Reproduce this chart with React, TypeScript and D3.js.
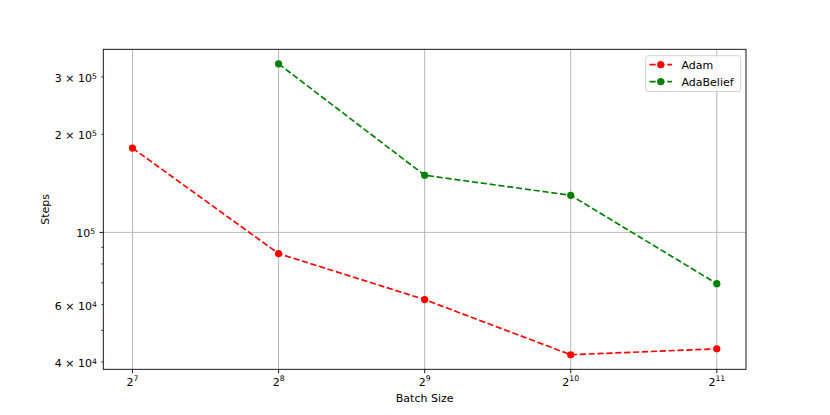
import React from "react";
import * as d3 from "d3";

const batchExp = [7, 8, 9, 10, 11];
const adamSteps = [181500, 86100, 62200, 42100, 43900];
const adaBeliefX = [8, 9, 10, 11];
const adaBeliefSteps = [329300, 149800, 130000, 69600];
const yLabeled = [
  { v: 300000, m: "3", e: "5", major: false },
  { v: 200000, m: "2", e: "5", major: false },
  { v: 100000, m: "", e: "5", major: true },
  { v: 60000, m: "6", e: "4", major: false },
  { v: 40000, m: "4", e: "4", major: false },
];
const yMinorUnlabeled = [50000, 70000, 80000, 90000];

const W = 830, H = 415;
const L = 103.3, R = 746, T = 49.3, B = 369.3;

export default function App() {
  const x = d3.scaleLog().base(2).domain([Math.pow(2, 6.8), Math.pow(2, 11.2)]).range([L, R]);
  const allY = [...adamSteps, ...adaBeliefSteps];
  const lo = Math.log10(d3.min(allY)!), hi = Math.log10(d3.max(allY)!);
  const pad = (hi - lo) * 0.05;
  const y = d3.scaleLog().domain([Math.pow(10, lo - pad), Math.pow(10, hi + pad)]).range([B, T]);
  const line = d3.line<[number, number]>().x(d => x(Math.pow(2, d[0]))).y(d => y(d[1]));
  const adamPts: [number, number][] = batchExp.map((e, i) => [e, adamSteps[i]]);
  const abPts: [number, number][] = adaBeliefX.map((e, i) => [e, adaBeliefSteps[i]]);
  const font = "DejaVu Sans, sans-serif";
  const dash = "6.2,2.7";
  const fs = 11;
  const sfs = 7.7;
  return (
    <svg width={W} height={H} style={{ position: "absolute", left: 0, top: 0 }} fontFamily={font}>
      <rect width={W} height={H} fill="white" />
      {/* grid */}
      {batchExp.map(e => (
        <line key={"gx" + e} x1={x(Math.pow(2, e))} x2={x(Math.pow(2, e))} y1={T} y2={B} stroke="#b0b0b0" strokeWidth={0.9} />
      ))}
      {yLabeled.filter(t => t.major).map(t => (
        <line key={"gy" + t.v} x1={L} x2={R} y1={y(t.v)} y2={y(t.v)} stroke="#b0b0b0" strokeWidth={0.9} />
      ))}
      {/* lines */}
      <path d={line(adamPts)!} fill="none" stroke="#ff0000" strokeWidth={1.67} strokeDasharray={dash} />
      <path d={line(abPts)!} fill="none" stroke="#008000" strokeWidth={1.67} strokeDasharray={dash} />
      {adamPts.map((p, i) => (
        <circle key={"a" + i} cx={x(Math.pow(2, p[0]))} cy={y(p[1])} r={3.6} fill="#ff0000" />
      ))}
      {abPts.map((p, i) => (
        <circle key={"b" + i} cx={x(Math.pow(2, p[0]))} cy={y(p[1])} r={3.6} fill="#008000" />
      ))}
      {/* frame */}
      <rect x={L} y={T} width={R - L} height={B - T} fill="none" stroke="black" strokeWidth={0.9} />
      {/* x ticks */}
      {batchExp.map(e => {
        const xx = x(Math.pow(2, e));
        return (
          <g key={"xt" + e}>
            <line x1={xx} x2={xx} y1={B} y2={B + 3.9} stroke="black" strokeWidth={0.9} />
            <text x={xx} y={385.5} fontSize={fs} textAnchor="middle">
              2<tspan fontSize={sfs} dy={-4.5}>{e}</tspan>
            </text>
          </g>
        );
      })}
      <text x={(L + R) / 2} y={402} fontSize={fs} textAnchor="middle">Batch Size</text>
      {/* y ticks */}
      {yLabeled.map(t => {
        const yy = y(t.v);
        const len = t.major ? 3.9 : 2.2;
        const right = L - len - 4.2;
        return (
          <g key={"yt" + t.v}>
            <line x1={L - len} x2={L} y1={yy} y2={yy} stroke="black" strokeWidth={t.major ? 0.9 : 0.7} />
            <text x={right - 5} y={yy + 5} fontSize={fs} textAnchor="end">
              {t.m ? `${t.m} × 10` : "10"}
            </text>
            <text x={right - 4.9} y={yy + 2} fontSize={sfs} textAnchor="start">{t.e}</text>
          </g>
        );
      })}
      {yMinorUnlabeled.map(v => (
        <line key={"ym" + v} x1={L - 2.2} x2={L} y1={y(v)} y2={y(v)} stroke="black" strokeWidth={0.7} />
      ))}
      <text transform={`translate(48.5,${(T + B) / 2}) rotate(-90)`} fontSize={fs} textAnchor="middle">Steps</text>
      {/* legend */}
      <rect x={645.7} y={55.7} width={95} height={36} rx={2.5} fill="white" fillOpacity={0.8} stroke="#cccccc" strokeWidth={0.9} />
      <line x1={649.5} x2={672} y1={64.7} y2={64.7} stroke="#ff0000" strokeWidth={1.67} strokeDasharray={dash} />
      <circle cx={660.7} cy={64.7} r={3.6} fill="#ff0000" />
      <text x={681.5} y={68.7} fontSize={fs}>Adam</text>
      <line x1={649.5} x2={672} y1={81.7} y2={81.7} stroke="#008000" strokeWidth={1.67} strokeDasharray={dash} />
      <circle cx={660.7} cy={81.7} r={3.6} fill="#008000" />
      <text x={681.5} y={85.7} fontSize={fs}>AdaBelief</text>
    </svg>
  );
}
